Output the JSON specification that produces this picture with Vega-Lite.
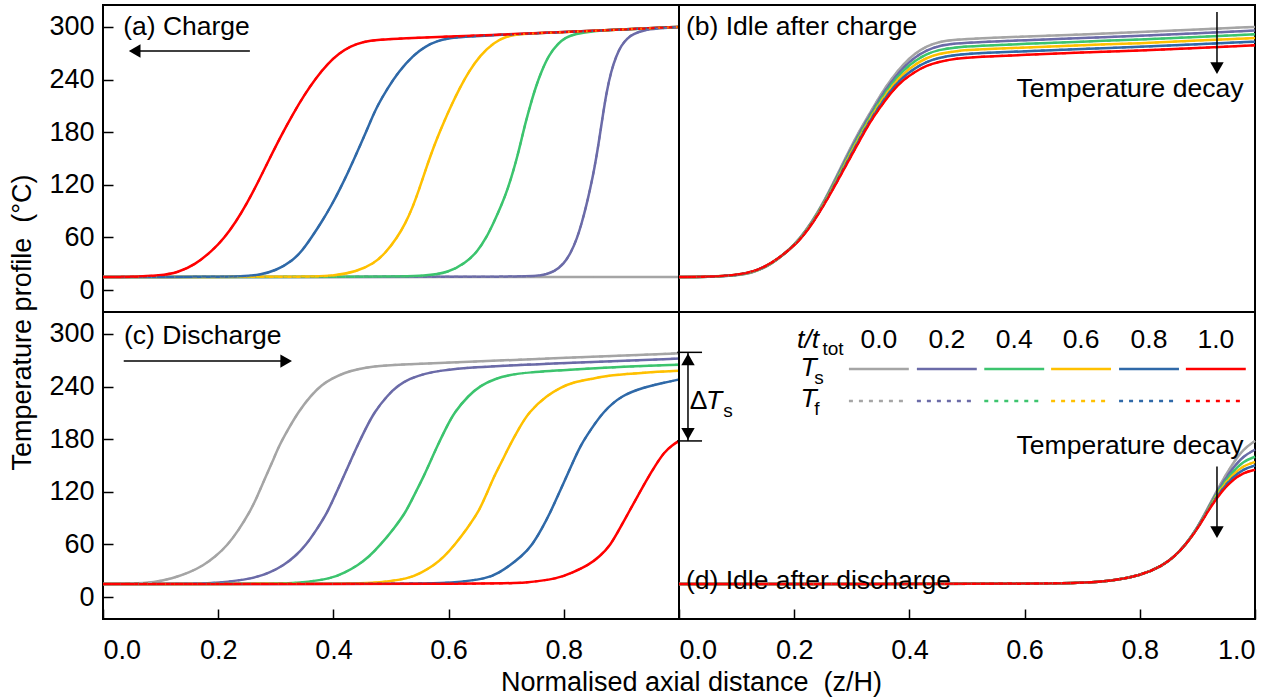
{
"$schema": "https://vega.github.io/schema/vega-lite/v6.json",
"background": "white",
"padding": {"left": 7, "top": 4, "right": 5, "bottom": 5},
"config": {
  "font": "Liberation Sans",
  "view": {"stroke": "black", "strokeWidth": 2},
  "axis": {"grid": false, "domain": false, "ticks": true, "labelFont": "Liberation Sans", "labelFontSize": 27, "labelColor": "black", "titleFont": "Liberation Sans", "titleFontSize": 27, "titleFontWeight": "normal", "titleColor": "black", "tickColor": "black", "tickWidth": 1.5, "tickSize": -10}
},
"datasets": {
"curves": [
{"p":"a","s":"0.0","z":0,"T":15},{"p":"a","s":"0.0","z":0.5,"T":15},{"p":"a","s":"0.0","z":1,"T":15},
{"p":"a","s":"0.2","z":0,"T":15},{"p":"a","s":"0.2","z":0.72,"T":15},{"p":"a","s":"0.2","z":0.76,"T":16},{"p":"a","s":"0.2","z":0.784,"T":21},{"p":"a","s":"0.2","z":0.8,"T":30},{"p":"a","s":"0.2","z":0.812,"T":42},{"p":"a","s":"0.2","z":0.823,"T":59},{"p":"a","s":"0.2","z":0.831,"T":76},{"p":"a","s":"0.2","z":0.839,"T":96},{"p":"a","s":"0.2","z":0.846,"T":116},{"p":"a","s":"0.2","z":0.853,"T":138},{"p":"a","s":"0.2","z":0.86,"T":165},{"p":"a","s":"0.2","z":0.867,"T":196},{"p":"a","s":"0.2","z":0.874,"T":225},{"p":"a","s":"0.2","z":0.882,"T":249},{"p":"a","s":"0.2","z":0.891,"T":267},{"p":"a","s":"0.2","z":0.9,"T":279},{"p":"a","s":"0.2","z":0.91,"T":287},{"p":"a","s":"0.2","z":0.92,"T":292},{"p":"a","s":"0.2","z":0.94,"T":296.5},{"p":"a","s":"0.2","z":0.96,"T":298},{"p":"a","s":"0.2","z":1,"T":300},
{"p":"a","s":"0.4","z":0,"T":15},{"p":"a","s":"0.4","z":0.5,"T":15},{"p":"a","s":"0.4","z":0.56,"T":16},{"p":"a","s":"0.4","z":0.6,"T":20},{"p":"a","s":"0.4","z":0.63,"T":31},{"p":"a","s":"0.4","z":0.65,"T":44},{"p":"a","s":"0.4","z":0.665,"T":59},{"p":"a","s":"0.4","z":0.679,"T":78},{"p":"a","s":"0.4","z":0.692,"T":97},{"p":"a","s":"0.4","z":0.703,"T":116},{"p":"a","s":"0.4","z":0.712,"T":135},{"p":"a","s":"0.4","z":0.72,"T":154},{"p":"a","s":"0.4","z":0.727,"T":173},{"p":"a","s":"0.4","z":0.734,"T":192},{"p":"a","s":"0.4","z":0.742,"T":211},{"p":"a","s":"0.4","z":0.751,"T":231},{"p":"a","s":"0.4","z":0.761,"T":249},{"p":"a","s":"0.4","z":0.774,"T":268},{"p":"a","s":"0.4","z":0.79,"T":281},{"p":"a","s":"0.4","z":0.803,"T":288},{"p":"a","s":"0.4","z":0.82,"T":292},{"p":"a","s":"0.4","z":0.85,"T":295.5},{"p":"a","s":"0.4","z":0.9,"T":297},{"p":"a","s":"0.4","z":1,"T":300},
{"p":"a","s":"0.6","z":0,"T":15},{"p":"a","s":"0.6","z":0.35,"T":15},{"p":"a","s":"0.6","z":0.4,"T":16},{"p":"a","s":"0.6","z":0.44,"T":21},{"p":"a","s":"0.6","z":0.47,"T":30},{"p":"a","s":"0.6","z":0.49,"T":42},{"p":"a","s":"0.6","z":0.51,"T":59},{"p":"a","s":"0.6","z":0.525,"T":76},{"p":"a","s":"0.6","z":0.538,"T":95},{"p":"a","s":"0.6","z":0.549,"T":115},{"p":"a","s":"0.6","z":0.559,"T":135},{"p":"a","s":"0.6","z":0.569,"T":154},{"p":"a","s":"0.6","z":0.58,"T":173},{"p":"a","s":"0.6","z":0.592,"T":192},{"p":"a","s":"0.6","z":0.605,"T":211},{"p":"a","s":"0.6","z":0.619,"T":230},{"p":"a","s":"0.6","z":0.635,"T":249},{"p":"a","s":"0.6","z":0.655,"T":268},{"p":"a","s":"0.6","z":0.68,"T":283},{"p":"a","s":"0.6","z":0.7,"T":289},{"p":"a","s":"0.6","z":0.72,"T":292},{"p":"a","s":"0.6","z":0.8,"T":294},{"p":"a","s":"0.6","z":0.9,"T":297},{"p":"a","s":"0.6","z":1,"T":300},
{"p":"a","s":"0.8","z":0,"T":15},{"p":"a","s":"0.8","z":0.2,"T":15},{"p":"a","s":"0.8","z":0.24,"T":15.5},{"p":"a","s":"0.8","z":0.27,"T":17},{"p":"a","s":"0.8","z":0.3,"T":22},{"p":"a","s":"0.8","z":0.33,"T":34},{"p":"a","s":"0.8","z":0.346,"T":45},{"p":"a","s":"0.8","z":0.362,"T":60},{"p":"a","s":"0.8","z":0.38,"T":78},{"p":"a","s":"0.8","z":0.397,"T":97},{"p":"a","s":"0.8","z":0.412,"T":116},{"p":"a","s":"0.8","z":0.426,"T":135},{"p":"a","s":"0.8","z":0.439,"T":154},{"p":"a","s":"0.8","z":0.452,"T":173},{"p":"a","s":"0.8","z":0.464,"T":192},{"p":"a","s":"0.8","z":0.477,"T":211},{"p":"a","s":"0.8","z":0.494,"T":230},{"p":"a","s":"0.8","z":0.513,"T":249},{"p":"a","s":"0.8","z":0.539,"T":268},{"p":"a","s":"0.8","z":0.56,"T":278},{"p":"a","s":"0.8","z":0.58,"T":284},{"p":"a","s":"0.8","z":0.6,"T":287},{"p":"a","s":"0.8","z":0.62,"T":288.5},{"p":"a","s":"0.8","z":0.7,"T":291.5},{"p":"a","s":"0.8","z":0.8,"T":294},{"p":"a","s":"0.8","z":0.9,"T":297},{"p":"a","s":"0.8","z":1,"T":300},
{"p":"a","s":"1.0","z":0,"T":15},{"p":"a","s":"1.0","z":0.05,"T":15},{"p":"a","s":"1.0","z":0.1,"T":16.5},{"p":"a","s":"1.0","z":0.13,"T":20},{"p":"a","s":"1.0","z":0.16,"T":29},{"p":"a","s":"1.0","z":0.19,"T":45},{"p":"a","s":"1.0","z":0.21,"T":59},{"p":"a","s":"1.0","z":0.23,"T":77},{"p":"a","s":"1.0","z":0.25,"T":99},{"p":"a","s":"1.0","z":0.27,"T":124},{"p":"a","s":"1.0","z":0.29,"T":151},{"p":"a","s":"1.0","z":0.31,"T":177},{"p":"a","s":"1.0","z":0.33,"T":201},{"p":"a","s":"1.0","z":0.35,"T":223},{"p":"a","s":"1.0","z":0.37,"T":242},{"p":"a","s":"1.0","z":0.39,"T":258},{"p":"a","s":"1.0","z":0.41,"T":270},{"p":"a","s":"1.0","z":0.43,"T":278},{"p":"a","s":"1.0","z":0.45,"T":283},{"p":"a","s":"1.0","z":0.48,"T":285.5},{"p":"a","s":"1.0","z":0.52,"T":287},{"p":"a","s":"1.0","z":0.6,"T":289},{"p":"a","s":"1.0","z":0.7,"T":291.5},{"p":"a","s":"1.0","z":0.8,"T":294},{"p":"a","s":"1.0","z":0.9,"T":297},{"p":"a","s":"1.0","z":1,"T":300},

{"p":"b","s":"0.0","z":0,"T":15},{"p":"b","s":"0.0","z":0.05,"T":15},{"p":"b","s":"0.0","z":0.1,"T":16.5},{"p":"b","s":"0.0","z":0.13,"T":20},{"p":"b","s":"0.0","z":0.16,"T":29},{"p":"b","s":"0.0","z":0.19,"T":45},{"p":"b","s":"0.0","z":0.21,"T":59},{"p":"b","s":"0.0","z":0.23,"T":77},{"p":"b","s":"0.0","z":0.25,"T":99},{"p":"b","s":"0.0","z":0.27,"T":125},{"p":"b","s":"0.0","z":0.29,"T":152},{"p":"b","s":"0.0","z":0.31,"T":178},{"p":"b","s":"0.0","z":0.33,"T":200},{"p":"b","s":"0.0","z":0.35,"T":223},{"p":"b","s":"0.0","z":0.37,"T":242},{"p":"b","s":"0.0","z":0.39,"T":258},{"p":"b","s":"0.0","z":0.41,"T":270},{"p":"b","s":"0.0","z":0.43,"T":278},{"p":"b","s":"0.0","z":0.45,"T":283},{"p":"b","s":"0.0","z":0.48,"T":285.5},{"p":"b","s":"0.0","z":0.52,"T":287},{"p":"b","s":"0.0","z":0.6,"T":289},{"p":"b","s":"0.0","z":0.7,"T":291.5},{"p":"b","s":"0.0","z":0.8,"T":294},{"p":"b","s":"0.0","z":0.9,"T":297},{"p":"b","s":"0.0","z":1,"T":300},
{"p":"b","s":"0.2","z":0,"T":15},{"p":"b","s":"0.2","z":0.05,"T":15},{"p":"b","s":"0.2","z":0.1,"T":16.6},{"p":"b","s":"0.2","z":0.13,"T":20.2},{"p":"b","s":"0.2","z":0.16,"T":29.2},{"p":"b","s":"0.2","z":0.19,"T":45},{"p":"b","s":"0.2","z":0.21,"T":58.6},{"p":"b","s":"0.2","z":0.23,"T":76.4},{"p":"b","s":"0.2","z":0.25,"T":98.2},{"p":"b","s":"0.2","z":0.27,"T":123.6},{"p":"b","s":"0.2","z":0.29,"T":150},{"p":"b","s":"0.2","z":0.31,"T":175.6},{"p":"b","s":"0.2","z":0.33,"T":198},{"p":"b","s":"0.2","z":0.35,"T":220.2},{"p":"b","s":"0.2","z":0.37,"T":239},{"p":"b","s":"0.2","z":0.39,"T":254.4},{"p":"b","s":"0.2","z":0.41,"T":265.8},{"p":"b","s":"0.2","z":0.43,"T":273.6},{"p":"b","s":"0.2","z":0.45,"T":278.4},{"p":"b","s":"0.2","z":0.48,"T":281.2},{"p":"b","s":"0.2","z":0.52,"T":282.8},{"p":"b","s":"0.2","z":0.6,"T":284.8},{"p":"b","s":"0.2","z":0.7,"T":287.4},{"p":"b","s":"0.2","z":0.8,"T":289.8},{"p":"b","s":"0.2","z":0.9,"T":292.8},{"p":"b","s":"0.2","z":1,"T":295.8},
{"p":"b","s":"0.4","z":0,"T":15},{"p":"b","s":"0.4","z":0.05,"T":15},{"p":"b","s":"0.4","z":0.1,"T":16.7},{"p":"b","s":"0.4","z":0.13,"T":20.4},{"p":"b","s":"0.4","z":0.16,"T":29.4},{"p":"b","s":"0.4","z":0.19,"T":45},{"p":"b","s":"0.4","z":0.21,"T":58.2},{"p":"b","s":"0.4","z":0.23,"T":75.8},{"p":"b","s":"0.4","z":0.25,"T":97.4},{"p":"b","s":"0.4","z":0.27,"T":122.2},{"p":"b","s":"0.4","z":0.29,"T":148},{"p":"b","s":"0.4","z":0.31,"T":173.2},{"p":"b","s":"0.4","z":0.33,"T":196},{"p":"b","s":"0.4","z":0.35,"T":217.4},{"p":"b","s":"0.4","z":0.37,"T":236},{"p":"b","s":"0.4","z":0.39,"T":250.8},{"p":"b","s":"0.4","z":0.41,"T":261.6},{"p":"b","s":"0.4","z":0.43,"T":269.2},{"p":"b","s":"0.4","z":0.45,"T":273.8},{"p":"b","s":"0.4","z":0.48,"T":276.9},{"p":"b","s":"0.4","z":0.52,"T":278.6},{"p":"b","s":"0.4","z":0.6,"T":280.6},{"p":"b","s":"0.4","z":0.7,"T":283.3},{"p":"b","s":"0.4","z":0.8,"T":285.6},{"p":"b","s":"0.4","z":0.9,"T":288.6},{"p":"b","s":"0.4","z":1,"T":291.6},
{"p":"b","s":"0.6","z":0,"T":15},{"p":"b","s":"0.6","z":0.05,"T":15},{"p":"b","s":"0.6","z":0.1,"T":16.8},{"p":"b","s":"0.6","z":0.13,"T":20.6},{"p":"b","s":"0.6","z":0.16,"T":29.6},{"p":"b","s":"0.6","z":0.19,"T":45},{"p":"b","s":"0.6","z":0.21,"T":57.8},{"p":"b","s":"0.6","z":0.23,"T":75.2},{"p":"b","s":"0.6","z":0.25,"T":96.6},{"p":"b","s":"0.6","z":0.27,"T":120.8},{"p":"b","s":"0.6","z":0.29,"T":146},{"p":"b","s":"0.6","z":0.31,"T":170.8},{"p":"b","s":"0.6","z":0.33,"T":194},{"p":"b","s":"0.6","z":0.35,"T":214.6},{"p":"b","s":"0.6","z":0.37,"T":233},{"p":"b","s":"0.6","z":0.39,"T":247.2},{"p":"b","s":"0.6","z":0.41,"T":257.4},{"p":"b","s":"0.6","z":0.43,"T":264.8},{"p":"b","s":"0.6","z":0.45,"T":269.2},{"p":"b","s":"0.6","z":0.48,"T":272.6},{"p":"b","s":"0.6","z":0.52,"T":274.4},{"p":"b","s":"0.6","z":0.6,"T":276.4},{"p":"b","s":"0.6","z":0.7,"T":279.2},{"p":"b","s":"0.6","z":0.8,"T":281.4},{"p":"b","s":"0.6","z":0.9,"T":284.4},{"p":"b","s":"0.6","z":1,"T":287.4},
{"p":"b","s":"0.8","z":0,"T":15},{"p":"b","s":"0.8","z":0.05,"T":15},{"p":"b","s":"0.8","z":0.1,"T":16.9},{"p":"b","s":"0.8","z":0.13,"T":20.8},{"p":"b","s":"0.8","z":0.16,"T":29.8},{"p":"b","s":"0.8","z":0.19,"T":45},{"p":"b","s":"0.8","z":0.21,"T":57.4},{"p":"b","s":"0.8","z":0.23,"T":74.6},{"p":"b","s":"0.8","z":0.25,"T":95.8},{"p":"b","s":"0.8","z":0.27,"T":119.4},{"p":"b","s":"0.8","z":0.29,"T":144},{"p":"b","s":"0.8","z":0.31,"T":168.4},{"p":"b","s":"0.8","z":0.33,"T":192},{"p":"b","s":"0.8","z":0.35,"T":211.8},{"p":"b","s":"0.8","z":0.37,"T":230},{"p":"b","s":"0.8","z":0.39,"T":243.6},{"p":"b","s":"0.8","z":0.41,"T":253.2},{"p":"b","s":"0.8","z":0.43,"T":260.4},{"p":"b","s":"0.8","z":0.45,"T":264.6},{"p":"b","s":"0.8","z":0.48,"T":268.3},{"p":"b","s":"0.8","z":0.52,"T":270.2},{"p":"b","s":"0.8","z":0.6,"T":272.2},{"p":"b","s":"0.8","z":0.7,"T":275.1},{"p":"b","s":"0.8","z":0.8,"T":277.2},{"p":"b","s":"0.8","z":0.9,"T":280.2},{"p":"b","s":"0.8","z":1,"T":283.2},
{"p":"b","s":"1.0","z":0,"T":15},{"p":"b","s":"1.0","z":0.05,"T":15},{"p":"b","s":"1.0","z":0.1,"T":17},{"p":"b","s":"1.0","z":0.13,"T":21},{"p":"b","s":"1.0","z":0.16,"T":30},{"p":"b","s":"1.0","z":0.19,"T":45},{"p":"b","s":"1.0","z":0.21,"T":57},{"p":"b","s":"1.0","z":0.23,"T":74},{"p":"b","s":"1.0","z":0.25,"T":95},{"p":"b","s":"1.0","z":0.27,"T":118},{"p":"b","s":"1.0","z":0.29,"T":142},{"p":"b","s":"1.0","z":0.31,"T":166},{"p":"b","s":"1.0","z":0.33,"T":190},{"p":"b","s":"1.0","z":0.35,"T":209},{"p":"b","s":"1.0","z":0.37,"T":227},{"p":"b","s":"1.0","z":0.39,"T":240},{"p":"b","s":"1.0","z":0.41,"T":249},{"p":"b","s":"1.0","z":0.43,"T":256},{"p":"b","s":"1.0","z":0.45,"T":260},{"p":"b","s":"1.0","z":0.48,"T":264},{"p":"b","s":"1.0","z":0.52,"T":266},{"p":"b","s":"1.0","z":0.6,"T":268},{"p":"b","s":"1.0","z":0.7,"T":271},{"p":"b","s":"1.0","z":0.8,"T":273},{"p":"b","s":"1.0","z":0.9,"T":276},{"p":"b","s":"1.0","z":1,"T":279},

{"p":"c","s":"0.0","z":0,"T":15},{"p":"c","s":"0.0","z":0.05,"T":15},{"p":"c","s":"0.0","z":0.09,"T":17},{"p":"c","s":"0.0","z":0.119,"T":21},{"p":"c","s":"0.0","z":0.15,"T":28},{"p":"c","s":"0.0","z":0.174,"T":36},{"p":"c","s":"0.0","z":0.195,"T":46},{"p":"c","s":"0.0","z":0.216,"T":59},{"p":"c","s":"0.0","z":0.235,"T":76},{"p":"c","s":"0.0","z":0.255,"T":97},{"p":"c","s":"0.0","z":0.268,"T":115},{"p":"c","s":"0.0","z":0.281,"T":135},{"p":"c","s":"0.0","z":0.294,"T":154},{"p":"c","s":"0.0","z":0.306,"T":173},{"p":"c","s":"0.0","z":0.322,"T":192},{"p":"c","s":"0.0","z":0.339,"T":211},{"p":"c","s":"0.0","z":0.361,"T":230},{"p":"c","s":"0.0","z":0.38,"T":242},{"p":"c","s":"0.0","z":0.397,"T":249},{"p":"c","s":"0.0","z":0.42,"T":256},{"p":"c","s":"0.0","z":0.442,"T":260},{"p":"c","s":"0.0","z":0.47,"T":263},{"p":"c","s":"0.0","z":0.506,"T":265},{"p":"c","s":"0.0","z":0.635,"T":268},{"p":"c","s":"0.0","z":0.765,"T":272},{"p":"c","s":"0.0","z":0.9,"T":275},{"p":"c","s":"0.0","z":1,"T":278},
{"p":"c","s":"0.2","z":0,"T":15},{"p":"c","s":"0.2","z":0.15,"T":15},{"p":"c","s":"0.2","z":0.2,"T":16},{"p":"c","s":"0.2","z":0.261,"T":21},{"p":"c","s":"0.2","z":0.29,"T":28},{"p":"c","s":"0.2","z":0.313,"T":36},{"p":"c","s":"0.2","z":0.333,"T":46},{"p":"c","s":"0.2","z":0.352,"T":59},{"p":"c","s":"0.2","z":0.37,"T":76},{"p":"c","s":"0.2","z":0.39,"T":97},{"p":"c","s":"0.2","z":0.403,"T":116},{"p":"c","s":"0.2","z":0.416,"T":135},{"p":"c","s":"0.2","z":0.429,"T":154},{"p":"c","s":"0.2","z":0.442,"T":173},{"p":"c","s":"0.2","z":0.456,"T":192},{"p":"c","s":"0.2","z":0.471,"T":211},{"p":"c","s":"0.2","z":0.494,"T":230},{"p":"c","s":"0.2","z":0.512,"T":241},{"p":"c","s":"0.2","z":0.532,"T":249},{"p":"c","s":"0.2","z":0.56,"T":255},{"p":"c","s":"0.2","z":0.584,"T":258},{"p":"c","s":"0.2","z":0.635,"T":262},{"p":"c","s":"0.2","z":0.765,"T":266},{"p":"c","s":"0.2","z":0.9,"T":269},{"p":"c","s":"0.2","z":1,"T":272},
{"p":"c","s":"0.4","z":0,"T":15},{"p":"c","s":"0.4","z":0.3,"T":15},{"p":"c","s":"0.4","z":0.339,"T":16},{"p":"c","s":"0.4","z":0.397,"T":21},{"p":"c","s":"0.4","z":0.42,"T":28},{"p":"c","s":"0.4","z":0.442,"T":36},{"p":"c","s":"0.4","z":0.462,"T":46},{"p":"c","s":"0.4","z":0.481,"T":59},{"p":"c","s":"0.4","z":0.505,"T":78},{"p":"c","s":"0.4","z":0.526,"T":97},{"p":"c","s":"0.4","z":0.54,"T":116},{"p":"c","s":"0.4","z":0.555,"T":135},{"p":"c","s":"0.4","z":0.568,"T":154},{"p":"c","s":"0.4","z":0.581,"T":173},{"p":"c","s":"0.4","z":0.595,"T":192},{"p":"c","s":"0.4","z":0.61,"T":211},{"p":"c","s":"0.4","z":0.635,"T":230},{"p":"c","s":"0.4","z":0.655,"T":241},{"p":"c","s":"0.4","z":0.681,"T":249},{"p":"c","s":"0.4","z":0.705,"T":253},{"p":"c","s":"0.4","z":0.732,"T":256},{"p":"c","s":"0.4","z":0.829,"T":260},{"p":"c","s":"0.4","z":0.9,"T":262.5},{"p":"c","s":"0.4","z":1,"T":265},
{"p":"c","s":"0.6","z":0,"T":15},{"p":"c","s":"0.6","z":0.42,"T":15},{"p":"c","s":"0.6","z":0.474,"T":16},{"p":"c","s":"0.6","z":0.532,"T":21},{"p":"c","s":"0.6","z":0.553,"T":28},{"p":"c","s":"0.6","z":0.574,"T":36},{"p":"c","s":"0.6","z":0.592,"T":46},{"p":"c","s":"0.6","z":0.61,"T":59},{"p":"c","s":"0.6","z":0.632,"T":78},{"p":"c","s":"0.6","z":0.652,"T":97},{"p":"c","s":"0.6","z":0.665,"T":116},{"p":"c","s":"0.6","z":0.677,"T":135},{"p":"c","s":"0.6","z":0.692,"T":154},{"p":"c","s":"0.6","z":0.706,"T":173},{"p":"c","s":"0.6","z":0.722,"T":192},{"p":"c","s":"0.6","z":0.739,"T":211},{"p":"c","s":"0.6","z":0.771,"T":230},{"p":"c","s":"0.6","z":0.795,"T":239},{"p":"c","s":"0.6","z":0.816,"T":245},{"p":"c","s":"0.6","z":0.85,"T":249},{"p":"c","s":"0.6","z":0.881,"T":253},{"p":"c","s":"0.6","z":0.94,"T":256},{"p":"c","s":"0.6","z":1,"T":258},
{"p":"c","s":"0.8","z":0,"T":15},{"p":"c","s":"0.8","z":0.55,"T":15},{"p":"c","s":"0.8","z":0.603,"T":16},{"p":"c","s":"0.8","z":0.668,"T":21},{"p":"c","s":"0.8","z":0.688,"T":28},{"p":"c","s":"0.8","z":0.706,"T":36},{"p":"c","s":"0.8","z":0.726,"T":46},{"p":"c","s":"0.8","z":0.745,"T":59},{"p":"c","s":"0.8","z":0.762,"T":78},{"p":"c","s":"0.8","z":0.777,"T":97},{"p":"c","s":"0.8","z":0.79,"T":116},{"p":"c","s":"0.8","z":0.803,"T":135},{"p":"c","s":"0.8","z":0.816,"T":154},{"p":"c","s":"0.8","z":0.829,"T":173},{"p":"c","s":"0.8","z":0.848,"T":192},{"p":"c","s":"0.8","z":0.868,"T":211},{"p":"c","s":"0.8","z":0.9,"T":230},{"p":"c","s":"0.8","z":0.939,"T":239},{"p":"c","s":"0.8","z":0.97,"T":244},{"p":"c","s":"0.8","z":1,"T":248},
{"p":"c","s":"1.0","z":0,"T":15},{"p":"c","s":"1.0","z":0.68,"T":15},{"p":"c","s":"1.0","z":0.732,"T":16},{"p":"c","s":"1.0","z":0.79,"T":21},{"p":"c","s":"1.0","z":0.815,"T":28},{"p":"c","s":"1.0","z":0.842,"T":36},{"p":"c","s":"1.0","z":0.862,"T":46},{"p":"c","s":"1.0","z":0.881,"T":59},{"p":"c","s":"1.0","z":0.897,"T":78},{"p":"c","s":"1.0","z":0.913,"T":97},{"p":"c","s":"1.0","z":0.929,"T":116},{"p":"c","s":"1.0","z":0.945,"T":135},{"p":"c","s":"1.0","z":0.96,"T":151},{"p":"c","s":"1.0","z":0.974,"T":165},{"p":"c","s":"1.0","z":0.988,"T":173},{"p":"c","s":"1.0","z":1,"T":178},

{"p":"d","s":"0.0","z":0,"T":15},{"p":"d","s":"0.0","z":0.6,"T":15},{"p":"d","s":"0.0","z":0.7,"T":16},{"p":"d","s":"0.0","z":0.75,"T":18.5},{"p":"d","s":"0.0","z":0.8,"T":24},{"p":"d","s":"0.0","z":0.84,"T":36},{"p":"d","s":"0.0","z":0.86,"T":46},{"p":"d","s":"0.0","z":0.88,"T":60},{"p":"d","s":"0.0","z":0.9,"T":79},{"p":"d","s":"0.0","z":0.92,"T":104},{"p":"d","s":"0.0","z":0.94,"T":129},{"p":"d","s":"0.0","z":0.96,"T":151},{"p":"d","s":"0.0","z":0.98,"T":169},{"p":"d","s":"0.0","z":1,"T":178},
{"p":"d","s":"0.2","z":0,"T":15},{"p":"d","s":"0.2","z":0.6,"T":15},{"p":"d","s":"0.2","z":0.7,"T":16},{"p":"d","s":"0.2","z":0.75,"T":18.5},{"p":"d","s":"0.2","z":0.8,"T":24},{"p":"d","s":"0.2","z":0.84,"T":36},{"p":"d","s":"0.2","z":0.86,"T":46},{"p":"d","s":"0.2","z":0.88,"T":60},{"p":"d","s":"0.2","z":0.9,"T":79},{"p":"d","s":"0.2","z":0.92,"T":103},{"p":"d","s":"0.2","z":0.94,"T":127},{"p":"d","s":"0.2","z":0.96,"T":146},{"p":"d","s":"0.2","z":0.98,"T":161},{"p":"d","s":"0.2","z":1,"T":168},
{"p":"d","s":"0.4","z":0,"T":15},{"p":"d","s":"0.4","z":0.6,"T":15},{"p":"d","s":"0.4","z":0.7,"T":16},{"p":"d","s":"0.4","z":0.75,"T":18.5},{"p":"d","s":"0.4","z":0.8,"T":24},{"p":"d","s":"0.4","z":0.84,"T":36},{"p":"d","s":"0.4","z":0.86,"T":46},{"p":"d","s":"0.4","z":0.88,"T":60},{"p":"d","s":"0.4","z":0.9,"T":78.5},{"p":"d","s":"0.4","z":0.92,"T":102},{"p":"d","s":"0.4","z":0.94,"T":125},{"p":"d","s":"0.4","z":0.96,"T":142},{"p":"d","s":"0.4","z":0.98,"T":155},{"p":"d","s":"0.4","z":1,"T":160},
{"p":"d","s":"0.6","z":0,"T":15},{"p":"d","s":"0.6","z":0.6,"T":15},{"p":"d","s":"0.6","z":0.7,"T":16},{"p":"d","s":"0.6","z":0.75,"T":18.5},{"p":"d","s":"0.6","z":0.8,"T":24},{"p":"d","s":"0.6","z":0.84,"T":36},{"p":"d","s":"0.6","z":0.86,"T":46},{"p":"d","s":"0.6","z":0.88,"T":60},{"p":"d","s":"0.6","z":0.9,"T":78},{"p":"d","s":"0.6","z":0.92,"T":101.5},{"p":"d","s":"0.6","z":0.94,"T":123},{"p":"d","s":"0.6","z":0.96,"T":139},{"p":"d","s":"0.6","z":0.98,"T":150},{"p":"d","s":"0.6","z":1,"T":154},
{"p":"d","s":"0.8","z":0,"T":15},{"p":"d","s":"0.8","z":0.6,"T":15},{"p":"d","s":"0.8","z":0.7,"T":16},{"p":"d","s":"0.8","z":0.75,"T":18.5},{"p":"d","s":"0.8","z":0.8,"T":24},{"p":"d","s":"0.8","z":0.84,"T":36},{"p":"d","s":"0.8","z":0.86,"T":46},{"p":"d","s":"0.8","z":0.88,"T":60},{"p":"d","s":"0.8","z":0.9,"T":78},{"p":"d","s":"0.8","z":0.92,"T":101},{"p":"d","s":"0.8","z":0.94,"T":121},{"p":"d","s":"0.8","z":0.96,"T":136},{"p":"d","s":"0.8","z":0.98,"T":146},{"p":"d","s":"0.8","z":1,"T":150},
{"p":"d","s":"1.0","z":0,"T":15},{"p":"d","s":"1.0","z":0.6,"T":15},{"p":"d","s":"1.0","z":0.7,"T":16},{"p":"d","s":"1.0","z":0.75,"T":18.5},{"p":"d","s":"1.0","z":0.8,"T":24},{"p":"d","s":"1.0","z":0.84,"T":36},{"p":"d","s":"1.0","z":0.86,"T":46},{"p":"d","s":"1.0","z":0.88,"T":60},{"p":"d","s":"1.0","z":0.9,"T":77.5},{"p":"d","s":"1.0","z":0.92,"T":100},{"p":"d","s":"1.0","z":0.94,"T":119},{"p":"d","s":"1.0","z":0.96,"T":133},{"p":"d","s":"1.0","z":0.98,"T":142},{"p":"d","s":"1.0","z":1,"T":145}
],
"texts": [
{"p":"a","st":"L","z":0.035,"T":300,"text":"(a) Charge"},
{"p":"b","st":"L","z":0.012,"T":300,"text":"(b) Idle after charge"},
{"p":"b","st":"C","z":0.783,"T":229,"text":"Temperature decay"},
{"p":"c","st":"L","z":0.0365,"T":297.5,"text":"(c) Discharge"},
{"p":"c","st":"C","z":1.034,"T":224,"text":"Δ"},
{"p":"c","st":"I","z":1.047,"T":224,"text":"T"},
{"p":"c","st":"S","z":1.077,"T":212,"text":"s"},
{"p":"d","st":"L","z":0.012,"T":18,"text":"(d) Idle after discharge"},
{"p":"d","st":"C","z":0.783,"T":172,"text":"Temperature decay"},
{"p":"d","st":"I","z":0.205,"T":293,"text":"t/t"},
{"p":"d","st":"S","z":0.249,"T":283,"text":"tot"},
{"p":"d","st":"C","z":0.347,"T":293,"text":"0.0"},
{"p":"d","st":"C","z":0.465,"T":293,"text":"0.2"},
{"p":"d","st":"C","z":0.582,"T":293,"text":"0.4"},
{"p":"d","st":"C","z":0.698,"T":293,"text":"0.6"},
{"p":"d","st":"C","z":0.816,"T":293,"text":"0.8"},
{"p":"d","st":"C","z":0.932,"T":293,"text":"1.0"},
{"p":"d","st":"I","z":0.211,"T":261,"text":"T"},
{"p":"d","st":"S","z":0.235,"T":250,"text":"s"},
{"p":"d","st":"I","z":0.211,"T":226,"text":"T"},
{"p":"d","st":"S","z":0.235,"T":214.5,"text":"f"}
],
"rules": [
{"p":"a","z":0.06,"z2":0.255,"T":272.5,"T2":272.5},
{"p":"b","z":0.934,"z2":0.934,"T":317,"T2":255},
{"p":"c","z":0.036,"z2":0.31,"T":269,"T2":269},
{"p":"c","z":1.0156,"z2":1.0156,"T":279,"T2":178},
{"p":"c","z":0.997,"z2":1.04,"T":279,"T2":279},
{"p":"c","z":0.997,"z2":1.04,"T":178,"T2":178},
{"p":"d","z":0.934,"z2":0.934,"T":149,"T2":76}
],
"heads": [
{"p":"a","z":0.055,"T":272.5,"shape":"triangle-left"},
{"p":"b","z":0.934,"T":253,"shape":"triangle-down"},
{"p":"c","z":0.318,"T":269,"shape":"triangle-right"},
{"p":"c","z":1.0156,"T":271,"shape":"triangle-up"},
{"p":"c","z":1.0156,"T":186,"shape":"triangle-down"},
{"p":"d","z":0.934,"T":74,"shape":"triangle-down"}
],
"leg": [
{"s":"0.0","z":0.295,"z2":0.399,"T":260,"k":"s"},{"s":"0.2","z":0.413,"z2":0.517,"T":260,"k":"s"},{"s":"0.4","z":0.53,"z2":0.634,"T":260,"k":"s"},{"s":"0.6","z":0.646,"z2":0.75,"T":260,"k":"s"},{"s":"0.8","z":0.764,"z2":0.868,"T":260,"k":"s"},{"s":"1.0","z":0.88,"z2":0.984,"T":260,"k":"s"},
{"s":"0.0","z":0.295,"z2":0.399,"T":223.5,"k":"f"},{"s":"0.2","z":0.413,"z2":0.517,"T":223.5,"k":"f"},{"s":"0.4","z":0.53,"z2":0.634,"T":223.5,"k":"f"},{"s":"0.6","z":0.646,"z2":0.75,"T":223.5,"k":"f"},{"s":"0.8","z":0.764,"z2":0.868,"T":223.5,"k":"f"},{"s":"1.0","z":0.88,"z2":0.984,"T":223.5,"k":"f"}
]
},
"columns": 2,
"spacing": 0,
"bounds": "flush",
"concat": [
{
 "width": 576, "height": 307,
 "encoding": {
  "x": {"field": "z", "type": "quantitative", "scale": {"domain": [0, 1], "nice": false, "zero": false}, "axis": null},
  "y": {"field": "T", "type": "quantitative", "scale": {"domain": [-25, 325], "nice": false, "zero": false}, "axis": {"values": [0, 60, 120, 180, 240, 300], "title": "Temperature profile\u00a0\u00a0(°C)", "titleY": 317, "titlePadding": 12, "labelPadding": 19}}
 },
 "layer": [
  {"data": {"name": "curves"}, "transform": [{"filter": "datum.p === 'a'"}], "mark": {"type": "line", "strokeWidth": 2.5, "interpolate": "basis"},
   "encoding": {"color": {"field": "s", "type": "nominal", "scale": {"domain": ["0.0","0.2","0.4","0.6","0.8","1.0"], "range": ["#A5A5A5","#6B6BA8","#3CC46E","#FFC000","#2F69A8","#FF0000"]}, "legend": null}}},
  {"data": {"name": "curves"}, "transform": [{"filter": "datum.p === 'a'"}], "mark": {"type": "line", "strokeWidth": 2, "strokeDash": [4, 5], "interpolate": "basis"},
   "encoding": {"color": {"field": "s", "type": "nominal", "legend": null}}},
  {"data": {"name": "rules"}, "transform": [{"filter": "datum.p === 'a'"}], "mark": {"type": "rule", "color": "black", "strokeWidth": 1.5},
   "encoding": {"x2": {"field": "z2"}, "y2": {"field": "T2"}}},
  {"data": {"name": "heads"}, "transform": [{"filter": "datum.p === 'a'"}], "mark": {"type": "point", "filled": true, "color": "black", "opacity": 1, "size": 180, "strokeWidth": 0},
   "encoding": {"shape": {"field": "shape", "type": "nominal", "scale": null, "legend": null}}},
  {"data": {"name": "texts"}, "transform": [{"filter": "datum.p === 'a' && datum.st === 'L'"}], "mark": {"type": "text", "align": "left", "baseline": "middle", "fontSize": 26.5, "font": "Liberation Sans", "color": "black"},
   "encoding": {"text": {"field": "text"}}}
 ]
},
{
 "width": 576, "height": 307,
 "encoding": {
  "x": {"field": "z", "type": "quantitative", "scale": {"domain": [0, 1], "nice": false, "zero": false}, "axis": null},
  "y": {"field": "T", "type": "quantitative", "scale": {"domain": [-25, 325], "nice": false, "zero": false}, "axis": null}
 },
 "layer": [
  {"data": {"name": "curves"}, "transform": [{"filter": "datum.p === 'b'"}], "mark": {"type": "line", "strokeWidth": 2.5, "interpolate": "basis"},
   "encoding": {"color": {"field": "s", "type": "nominal", "scale": {"domain": ["0.0","0.2","0.4","0.6","0.8","1.0"], "range": ["#A5A5A5","#6B6BA8","#3CC46E","#FFC000","#2F69A8","#FF0000"]}, "legend": null}}},
  {"data": {"name": "curves"}, "transform": [{"filter": "datum.p === 'b'"}], "mark": {"type": "line", "strokeWidth": 2, "strokeDash": [4, 5], "interpolate": "basis"},
   "encoding": {"color": {"field": "s", "type": "nominal", "legend": null}}},
  {"data": {"name": "rules"}, "transform": [{"filter": "datum.p === 'b'"}], "mark": {"type": "rule", "color": "black", "strokeWidth": 1.5},
   "encoding": {"x2": {"field": "z2"}, "y2": {"field": "T2"}}},
  {"data": {"name": "heads"}, "transform": [{"filter": "datum.p === 'b'"}], "mark": {"type": "point", "filled": true, "color": "black", "opacity": 1, "size": 180, "strokeWidth": 0},
   "encoding": {"shape": {"field": "shape", "type": "nominal", "scale": null, "legend": null}}},
  {"data": {"name": "texts"}, "transform": [{"filter": "datum.p === 'b' && datum.st === 'L'"}], "mark": {"type": "text", "align": "left", "baseline": "middle", "fontSize": 26.5, "font": "Liberation Sans", "color": "black"},
   "encoding": {"text": {"field": "text"}}},
  {"data": {"name": "texts"}, "transform": [{"filter": "datum.p === 'b' && datum.st === 'C'"}], "mark": {"type": "text", "align": "center", "baseline": "middle", "fontSize": 26.5, "font": "Liberation Sans", "color": "black"},
   "encoding": {"text": {"field": "text"}}}
 ]
},
{
 "width": 576, "height": 307,
 "encoding": {
  "x": {"field": "z", "type": "quantitative", "scale": {"domain": [0, 1], "nice": false, "zero": false}, "axis": {"values": [0, 0.2, 0.4, 0.6, 0.8], "format": ".1f", "title": "Normalised axial distance\u00a0\u00a0(z/H)", "titleX": 588, "labelPadding": 28, "titlePadding": 6}},
  "y": {"field": "T", "type": "quantitative", "scale": {"domain": [-25, 325], "nice": false, "zero": false}, "axis": {"values": [0, 60, 120, 180, 240, 300], "title": null, "labelPadding": 19}}
 },
 "layer": [
  {"data": {"name": "curves"}, "transform": [{"filter": "datum.p === 'c'"}], "mark": {"type": "line", "strokeWidth": 2.5, "interpolate": "basis"},
   "encoding": {"color": {"field": "s", "type": "nominal", "scale": {"domain": ["0.0","0.2","0.4","0.6","0.8","1.0"], "range": ["#A5A5A5","#6B6BA8","#3CC46E","#FFC000","#2F69A8","#FF0000"]}, "legend": null}}},
  {"data": {"name": "curves"}, "transform": [{"filter": "datum.p === 'c'"}], "mark": {"type": "line", "strokeWidth": 2, "strokeDash": [4, 5], "interpolate": "basis"},
   "encoding": {"color": {"field": "s", "type": "nominal", "legend": null}}},
  {"data": {"name": "rules"}, "transform": [{"filter": "datum.p === 'c'"}], "mark": {"type": "rule", "color": "black", "strokeWidth": 1.5},
   "encoding": {"x2": {"field": "z2"}, "y2": {"field": "T2"}}},
  {"data": {"name": "heads"}, "transform": [{"filter": "datum.p === 'c'"}], "mark": {"type": "point", "filled": true, "color": "black", "opacity": 1, "size": 180, "strokeWidth": 0},
   "encoding": {"shape": {"field": "shape", "type": "nominal", "scale": null, "legend": null}}},
  {"data": {"name": "texts"}, "transform": [{"filter": "datum.p === 'c' && datum.st === 'L'"}], "mark": {"type": "text", "align": "left", "baseline": "middle", "fontSize": 26.5, "font": "Liberation Sans", "color": "black"},
   "encoding": {"text": {"field": "text"}}},
  {"data": {"name": "texts"}, "transform": [{"filter": "datum.p === 'c' && datum.st === 'C'"}], "mark": {"type": "text", "align": "center", "baseline": "middle", "fontSize": 26.5, "font": "Liberation Sans", "color": "black"},
   "encoding": {"text": {"field": "text"}}},
  {"data": {"name": "texts"}, "transform": [{"filter": "datum.p === 'c' && datum.st === 'I'"}], "mark": {"type": "text", "align": "left", "baseline": "middle", "fontSize": 26.5, "fontStyle": "italic", "font": "Liberation Sans", "color": "black"},
   "encoding": {"text": {"field": "text"}}},
  {"data": {"name": "texts"}, "transform": [{"filter": "datum.p === 'c' && datum.st === 'S'"}], "mark": {"type": "text", "align": "left", "baseline": "middle", "fontSize": 19, "font": "Liberation Sans", "color": "black"},
   "encoding": {"text": {"field": "text"}}}
 ]
},
{
 "width": 576, "height": 307,
 "encoding": {
  "x": {"field": "z", "type": "quantitative", "scale": {"domain": [0, 1], "nice": false, "zero": false}, "axis": {"values": [0, 0.2, 0.4, 0.6, 0.8, 1.0], "format": ".1f", "title": null, "labelPadding": 28}},
  "y": {"field": "T", "type": "quantitative", "scale": {"domain": [-25, 325], "nice": false, "zero": false}, "axis": null}
 },
 "layer": [
  {"data": {"name": "curves"}, "transform": [{"filter": "datum.p === 'd'"}], "mark": {"type": "line", "strokeWidth": 2.5, "interpolate": "basis"},
   "encoding": {"color": {"field": "s", "type": "nominal", "scale": {"domain": ["0.0","0.2","0.4","0.6","0.8","1.0"], "range": ["#A5A5A5","#6B6BA8","#3CC46E","#FFC000","#2F69A8","#FF0000"]}, "legend": null}}},
  {"data": {"name": "curves"}, "transform": [{"filter": "datum.p === 'd'"}], "mark": {"type": "line", "strokeWidth": 2, "strokeDash": [4, 5], "interpolate": "basis"},
   "encoding": {"color": {"field": "s", "type": "nominal", "legend": null}}},
  {"data": {"name": "leg"}, "transform": [{"filter": "datum.k === 's'"}], "mark": {"type": "rule", "strokeWidth": 2.5},
   "encoding": {"x2": {"field": "z2"}, "color": {"field": "s", "type": "nominal", "legend": null}}},
  {"data": {"name": "leg"}, "transform": [{"filter": "datum.k === 'f'"}], "mark": {"type": "rule", "strokeWidth": 2.5, "strokeDash": [4, 6]},
   "encoding": {"x2": {"field": "z2"}, "color": {"field": "s", "type": "nominal", "legend": null}}},
  {"data": {"name": "rules"}, "transform": [{"filter": "datum.p === 'd'"}], "mark": {"type": "rule", "color": "black", "strokeWidth": 1.5},
   "encoding": {"x2": {"field": "z2"}, "y2": {"field": "T2"}}},
  {"data": {"name": "heads"}, "transform": [{"filter": "datum.p === 'd'"}], "mark": {"type": "point", "filled": true, "color": "black", "opacity": 1, "size": 180, "strokeWidth": 0},
   "encoding": {"shape": {"field": "shape", "type": "nominal", "scale": null, "legend": null}}},
  {"data": {"name": "texts"}, "transform": [{"filter": "datum.p === 'd' && datum.st === 'L'"}], "mark": {"type": "text", "align": "left", "baseline": "middle", "fontSize": 26.5, "font": "Liberation Sans", "color": "black"},
   "encoding": {"text": {"field": "text"}}},
  {"data": {"name": "texts"}, "transform": [{"filter": "datum.p === 'd' && datum.st === 'C'"}], "mark": {"type": "text", "align": "center", "baseline": "middle", "fontSize": 26.5, "font": "Liberation Sans", "color": "black"},
   "encoding": {"text": {"field": "text"}}},
  {"data": {"name": "texts"}, "transform": [{"filter": "datum.p === 'd' && datum.st === 'I'"}], "mark": {"type": "text", "align": "left", "baseline": "middle", "fontSize": 26.5, "fontStyle": "italic", "font": "Liberation Sans", "color": "black"},
   "encoding": {"text": {"field": "text"}}},
  {"data": {"name": "texts"}, "transform": [{"filter": "datum.p === 'd' && datum.st === 'S'"}], "mark": {"type": "text", "align": "left", "baseline": "middle", "fontSize": 19, "font": "Liberation Sans", "color": "black"},
   "encoding": {"text": {"field": "text"}}}
 ]
}
]
}
